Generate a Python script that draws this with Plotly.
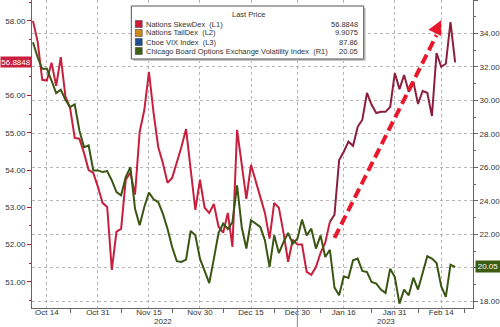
import plotly.graph_objects as go
import pandas as pd

# ---------------- data ----------------
holidays = ["2022-12-26", "2023-01-02"]

skewdex = [58.0, 57.45, 56.42, 56.40, 56.88, 56.26, 57.03, 55.97, 55.67, 54.86,
           54.84, 54.46, 54.0, 53.92, 53.55, 53.12, 53.01, 51.32, 52.35, 52.42,
           53.74, 53.93, 53.34, 55.02, 55.61, 56.63, 55.53, 54.62, 54.19, 53.66,
           53.79, 54.2, 54.62, 55.10, 54.06, 52.93, 53.74, 52.99, 52.85, 53.09,
           52.48, 52.32, 52.85, 51.94, 55.08, 54.19, 53.23, 54.14, 53.74, 53.28,
           52.85, 52.16, 53.12, 52.99, 52.32, 51.54, 52.13, 52.0, 52.0, 51.27,
           51.19, 51.40, 51.78, 52.05, 52.61, 52.80, 54.27, 54.49, 54.76, 54.65,
           55.16, 55.35, 56.07, 55.75, 55.53, 55.56, 55.56, 55.69, 56.60, 56.17,
           56.55, 56.10, 56.37, 55.77, 56.12, 56.07, 55.45, 57.14, 56.77, 56.85,
           57.97, 56.8848]

vix = [33.48, 32.58, 31.89, 31.89, 31.19, 30.44, 30.64, 30.04, 29.60, 29.76,
       28.21, 27.21, 27.31, 25.82, 25.82, 25.72, 25.78, 25.22, 24.52, 24.33,
       25.42, 26.02, 23.53, 22.54, 23.63, 24.49, 24.09, 23.93, 23.24, 22.34,
       21.24, 20.4, 20.35, 20.49, 22.2, 21.94, 20.55, 19.81, 19.09, 20.55,
       22.08, 22.64, 22.32, 22.73, 24.93, 22.44, 21.15, 22.84, 22.64, 22.44,
       21.64, 20.05, 21.94, 20.88, 21.54, 22.08, 21.44, 21.74, 22.88, 21.94,
       22.34, 21.15, 21.94, 20.65, 21.08, 18.82, 18.36, 19.49, 19.39, 20.45,
       20.55, 19.81, 19.75, 19.15, 19.06, 18.70, 18.50, 19.95, 19.45, 17.86,
       18.70, 18.36, 19.41, 18.70, 19.69, 20.69, 20.55, 20.29, 18.9, 18.26,
       20.19, 20.05]

dates = pd.bdate_range("2022-10-11", periods=len(skewdex), freq="C", holidays=holidays)
dates = [d.strftime("%Y-%m-%d") for d in dates]

tick_dates = ["2022-10-14", "2022-10-31", "2022-11-15", "2022-11-30", "2022-12-15",
              "2022-12-30", "2023-01-16", "2023-01-31", "2023-02-14"]
tick_labels = ["Oct 14", "Oct 31", "Nov 15", "Nov 30", "Dec 15",
               "Dec 30", "Jan 16", "Jan 31", "Feb 14"]
minor_tick_dates = ["2022-10-21", "2022-11-07", "2022-11-22", "2022-12-07", "2022-12-22",
                    "2023-01-09", "2023-01-24", "2023-02-07", "2023-02-21"]
year_labels = ["2022", "2023"]
year_label_dates = ["2022-11-18", "2023-01-27"]
year_split_date = "2022-12-30"

left_ticks = [51, 52, 53, 54, 55, 56, 57, 58]
left_hidden = [57]          # label covered by the last-value tag
right_ticks = [18, 20, 22, 24, 26, 28, 30, 32, 34, 36]
right_hidden = [20]         # label covered by the last-value tag

legend_names = ["Nations SkewDex\u00a0\u00a0(L1)", "Nations TailDex\u00a0\u00a0(L2)",
                "Cboe VIX Index\u00a0\u00a0(L3)",
                "Chicago Board Options Exchange Volatility Index\u00a0\u00a0(R1)"]
legend_values = ["56.8848", "9.9075", "87.86", "20.05"]
legend_colors = ["#d01c3c", "#c98a17", "#1d4f91", "#3e5f14"]

split_idx = 64  # colour of SkewDex line changes here
arrow_tail = (dates[65], 52.18)
arrow_end = (dates[87], 57.62)
arrow_tip = (dates[88], 58.02)

# ---------------- styling ----------------
FONT = "Liberation Sans"
RED1 = "#c81f3e"
RED2 = "#8c1f3d"
GREEN = "#3a5612"
GRID = "#b5b5b5"
AXIS = "#666666"

W, H = 500, 327
ML, MR, MT, MB = 32, 24, 0, 19
PW, PH = W - ML - MR, H - MT - MB


def px(x):
    return (x - ML) / PW


def py(y):
    return 1 - (y - MT) / PH


fig = go.Figure()

fig.add_trace(go.Scatter(x=dates[:split_idx + 1], y=skewdex[:split_idx + 1], mode="lines",
                         line=dict(color=RED1, width=2), showlegend=False, yaxis="y"))
fig.add_trace(go.Scatter(x=dates[split_idx:], y=skewdex[split_idx:], mode="lines",
                         line=dict(color=RED2, width=2), showlegend=False, yaxis="y"))
fig.add_trace(go.Scatter(x=dates, y=vix, mode="lines",
                         line=dict(color=GREEN, width=2), showlegend=False, yaxis="y2"))

shapes = []
annotations = []

# dashed red arrow
shapes.append(dict(type="line", xref="x", yref="y",
                   x0=arrow_tail[0], y0=arrow_tail[1], x1=arrow_end[0], y1=arrow_end[1],
                   line=dict(color="#e8192c", width=4, dash="10px,5px"), layer="above"))
annotations.append(dict(xref="x", yref="y", x=arrow_tip[0], y=arrow_tip[1], text="",
                        showarrow=True, ax=-6, ay=12, arrowhead=2, arrowsize=0.95,
                        arrowwidth=3, arrowcolor="#e8192c"))

# year separator
shapes.append(dict(type="line", xref="x", yref="paper", x0=year_split_date, x1=year_split_date,
                   y0=0, y1=py(327), line=dict(color="#888", width=1)))
for lbl, d in zip(year_labels, year_label_dates):
    annotations.append(dict(xref="x", yref="paper", x=d, y=py(321.5), text=lbl, showarrow=False,
                            font=dict(family=FONT, size=8, color="#333"), yanchor="middle",
                            borderpad=0))

# legend box
shapes.append(dict(type="rect", xref="paper", yref="paper",
                   x0=px(134), x1=px(368), y0=py(61), y1=py(8),
                   fillcolor="#c8c8c8", line=dict(width=0), layer="above"))
shapes.append(dict(type="rect", xref="paper", yref="paper",
                   x0=px(132), x1=px(366), y0=py(59), y1=py(6),
                   fillcolor="white", line=dict(color="#555", width=1), layer="above"))
annotations.append(dict(xref="paper", yref="paper", x=px(250), y=py(15), text="Last Price",
                        showarrow=False, font=dict(family=FONT, size=7.5, color="#333"),
                        xanchor="center", yanchor="middle"))
row_y = [24, 33, 42, 51]
for name, val, col, ry in zip(legend_names, legend_values, legend_colors, row_y):
    shapes.append(dict(type="rect", xref="paper", yref="paper",
                       x0=px(136), x1=px(143), y0=py(ry + 3.5), y1=py(ry - 3.5),
                       fillcolor=col, line=dict(color="#333", width=0.5), layer="above"))
    annotations.append(dict(xref="paper", yref="paper", x=px(145), y=py(ry), text=name,
                            showarrow=False, font=dict(family=FONT, size=7.5, color="#333"),
                            xanchor="left", yanchor="middle"))
    annotations.append(dict(xref="paper", yref="paper", x=px(362), y=py(ry), text=val,
                            showarrow=False, font=dict(family=FONT, size=7.5, color="#333"),
                            xanchor="right", yanchor="middle"))

# last-value tags
annotations.append(dict(xref="paper", yref="y", x=px(0), y=skewdex[-1], text="56.8848",
                        showarrow=False, xanchor="left", yanchor="middle",
                        bgcolor="#c8203e", width=30, height=10, borderpad=0,
                        font=dict(family=FONT, size=8, color="white")))
annotations.append(dict(xref="paper", yref="y2", x=px(478), y=vix[-1], text="20.05",
                        showarrow=False, xanchor="left", yanchor="middle",
                        bgcolor="#3d5c12", width=24, height=11, borderpad=0,
                        font=dict(family=FONT, size=8, color="white")))

x_range = ["2022-10-10 19:00", "2023-02-22 20:30"]

fig.update_layout(
    width=W, height=H, autosize=False,
    margin=dict(l=ML, r=MR, t=MT, b=MB, pad=0),
    paper_bgcolor="white", plot_bgcolor="white",
    font=dict(family=FONT, size=8, color="#333"),
    showlegend=False,
    shapes=shapes, annotations=annotations,
    xaxis=dict(
        type="date", range=x_range,
        rangebreaks=[dict(bounds=["sat", "mon"]), dict(values=holidays)],
        tickmode="array", tickvals=tick_dates, ticktext=tick_labels,
        ticks="", showgrid=True, gridcolor=GRID, griddash="dot", gridwidth=1,
        showline=True, linecolor=AXIS, linewidth=1,
        ticklabelstandoff=-4,
        tickfont=dict(family=FONT, size=8, color="#333"),
        minor=dict(tickmode="array", tickvals=minor_tick_dates, ticks="outside",
                   ticklen=4, tickcolor=AXIS, showgrid=False),
        zeroline=False,
    ),
    yaxis=dict(
        range=[50.30, 58.56], tickmode="array", tickvals=left_ticks,
        ticktext=["" if v in left_hidden else f"{v:.2f}" for v in left_ticks],
        ticks="outside", ticklen=4, tickcolor="#a0203a", showgrid=False,
        showline=True, linecolor=AXIS, linewidth=1, zeroline=False,
        tickfont=dict(family=FONT, size=8, color="#333"),
        minor=dict(dtick=0.5, ticks="outside", ticklen=2, tickcolor="#a0203a", showgrid=False),
    ),
    yaxis2=dict(
        overlaying="y", side="right", range=[17.6, 36.0],
        tickmode="array", tickvals=right_ticks,
        ticktext=["" if v in right_hidden else f"{v:.2f}" for v in right_ticks],
        ticks="outside", ticklen=4, tickcolor=AXIS,
        showgrid=True, gridcolor=GRID, griddash="dot", gridwidth=1,
        showline=True, linecolor=AXIS, linewidth=1, zeroline=False,
        tickfont=dict(family=FONT, size=8, color="#333"),
        minor=dict(dtick=1, ticks="outside", ticklen=2, tickcolor=AXIS, showgrid=False),
    ),
)

fig.write_html("out.html")
